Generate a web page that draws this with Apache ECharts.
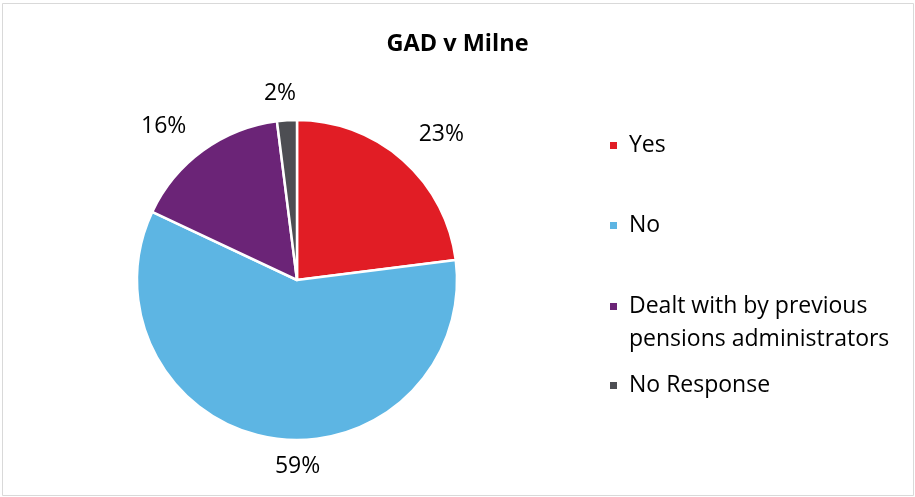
<!DOCTYPE html>
<html>
<head>
<meta charset="utf-8">
<script src="https://cdn.jsdelivr.net/npm/echarts@6/dist/echarts.min.js"></script>
<style>
  html, body { margin: 0; padding: 0; background: #fff; }
  #chart { width: 915px; height: 497px; }
</style>
</head>
<body>
<div id="chart"></div>
<script>
// Survey responses: GAD v Milne
const categories = ['Yes', 'No', 'Dealt with by previous pensions administrators', 'No Response'];
const shares = [23, 59, 16, 2];
const sliceColors = ['#E11D25', '#5DB5E3', '#6B2477', '#4D4E53'];

const FONT = '"Open Sans", "Noto Sans", sans-serif';

// small nudges so each percentage sits where it reads best around the rim
const labelNudge = [[-9, -3], [58, -1], [6, 0], [16, 3]];

const chart = echarts.init(document.getElementById('chart'), null, { renderer: 'canvas' });

// one legend block per entry so the vertical rhythm can follow the text
const legendTops = [124, 204, 252, 364];
const legends = categories.map((name, i) => ({
  data: [name],
  orient: 'vertical',
  left: 603,
  top: legendTops[i],
  icon: 'rect',
  itemWidth: 9,
  itemHeight: 9,
  itemGap: 0,
  selectedMode: false,
  // wrapped entry: an empty first line keeps the marker level with the first text line
  formatter: n => n === categories[2] ? '\nDealt with by previous\npensions administrators' : n,
  textStyle: { fontFamily: FONT, fontSize: 23, color: '#000', lineHeight: 33, padding: [0, 0, 0, 6] }
}));

chart.setOption({
  animation: false,
  backgroundColor: '#fff',
  title: {
    text: 'GAD v Milne',
    left: 'center',
    top: 27,
    textStyle: { fontFamily: FONT, fontSize: 23.5, fontWeight: 'bold', color: '#000' }
  },
  graphic: [{
    type: 'rect',
    shape: { x: 2.5, y: 3.5, width: 911, height: 492 },
    style: { fill: 'none', stroke: '#d9d9d9', lineWidth: 1 },
    silent: true
  }],
  legend: legends,
  series: [{
    type: 'pie',
    center: [297, 280],
    radius: 160,
    startAngle: 90,
    clockwise: true,
    avoidLabelOverlap: false,
    itemStyle: { borderColor: '#fff', borderWidth: 2.5 },
    label: {
      show: true,
      position: 'outside',
      formatter: p => p.value + '%',
      fontFamily: FONT,
      fontSize: 23,
      color: '#000'
    },
    labelLine: { show: false, length: 30, length2: 0 },
    labelLayout: p => ({ dx: labelNudge[p.dataIndex][0], dy: labelNudge[p.dataIndex][1] }),
    data: categories.map((name, i) => ({
      name,
      value: shares[i],
      itemStyle: { color: sliceColors[i] }
    }))
  }]
});
</script>
</body>
</html>
